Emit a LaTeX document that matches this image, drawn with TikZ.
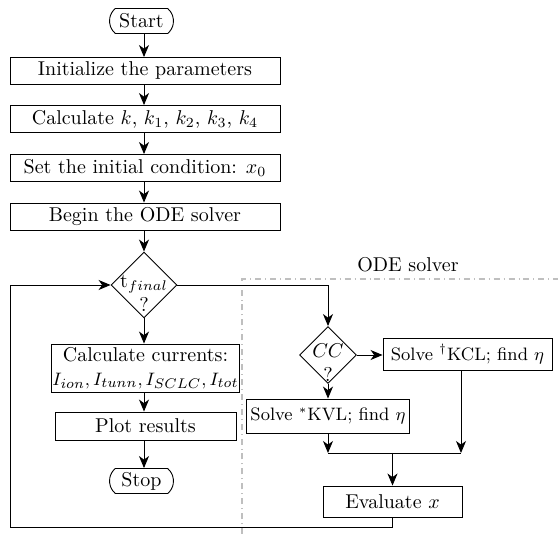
\documentclass[tikz,border=0pt]{standalone}
\usetikzlibrary{shapes.geometric,shapes.misc,arrows.meta,calc}
\begin{document}
\begin{tikzpicture}[x=0.5pt,y=-0.5pt,
  every path/.style={line width=0.45pt},
  box/.style={draw,rectangle,inner sep=2pt,align=center},
  mainbox/.style={box,minimum width=135pt,minimum height=13.5pt},
  sidebox/.style={box,minimum height=16pt,font=\small},
  term/.style={draw,rounded rectangle,rounded rectangle arc length=100,minimum width=34pt,minimum height=12.5pt,inner sep=1pt},
  decision/.style={draw,diamond,minimum width=#1,minimum height=#1,inner sep=0pt},
  dtext/.style={align=center,inner sep=0pt},
  arr/.style={-{Stealth[length=6pt,width=5pt,inset=1.8pt]}},
  odebox/.style={draw=gray!50,dash dot,line width=0.6pt}]
\useasboundingbox (0,0) rectangle (558,534);

\node[term] (start) at (141.5,21) {Start};
\node[mainbox] (init) at (145,71) {Initialize the parameters};
\node[mainbox] (calc) at (145,119) {Calculate $k$, $k_1$, $k_2$, $k_3$, $k_4$};
\node[mainbox] (set) at (145,168) {Set the initial condition: $x_0$};
\node[mainbox] (begin) at (145,216.5) {Begin the ODE solver};
\node[decision=33pt] (tf) at (144,285) {};
\node[dtext] (tftext) at (144,293) {t$_{final}$\\[0pt]?};
\node[box,minimum width=90.5pt,minimum height=24pt,inner sep=0.5pt] (cur) at (145.5,368) {Calculate currents:\\{\fontsize{9.4}{11}\selectfont$I_{ion},I_{tunn},I_{SCLC},I_{tot}$}};
\node[box,minimum width=90.5pt,minimum height=14pt] (plot) at (145.5,426) {Plot results};
\node[term] (stop) at (141.5,481) {Stop};

\draw[odebox] (242,534) -- (242,279) -- (558,279);
\node (odelbl) at (408,265) {ODE solver};

\node[decision=28.5pt] (cc) at (328,355) {};
\node[dtext] (cctext) at (328,363) {$CC$\\[0pt]?};
\node[sidebox,minimum width=84.5pt] (kcl) at (467.5,354) {Solve $^\dagger$KCL; find $\eta$};
\node[sidebox,minimum width=80pt,minimum height=17pt] (kvl) at (328,416) {Solve $^*$KVL; find $\eta$};
\node[box,minimum width=69.5pt,minimum height=15.5pt] (eval) at (392.5,501.5) {Evaluate $x$};

\coordinate (jl) at (328,453);
\coordinate (jr) at (461,453);
\coordinate (lb) at (10,527);

\draw[arr] (start.south -| tf) -- (init.north -| tf);
\draw[arr] (init.south -| tf) -- (calc.north -| tf);
\draw[arr] (calc.south -| tf) -- (set.north -| tf);
\draw[arr] (set.south -| tf) -- (begin.north -| tf);
\draw[arr] (begin.south -| tf) -- (tf);
\draw[arr] (tf) -- (cur.north -| tf);
\draw[arr] (cur.south -| tf) -- (plot.north -| tf);
\draw[arr] (plot.south -| tf) -- (stop.north -| tf);
\draw[arr] (tf.east) -| (cc.north);
\draw[arr] (cc.east) -- (cc.east -| kcl.west);
\draw[arr] (cc) -- (kvl);
\draw[arr] (kcl.south -| jr) -- (jr);
\draw[arr] (kvl) -- (jl);
\draw (jl) -- (jr);
\draw[arr] (eval.north |- jl) -- (eval);
\draw[arr] (eval.south) |- (lb) |- (tf.west);
\end{tikzpicture}
\end{document}
